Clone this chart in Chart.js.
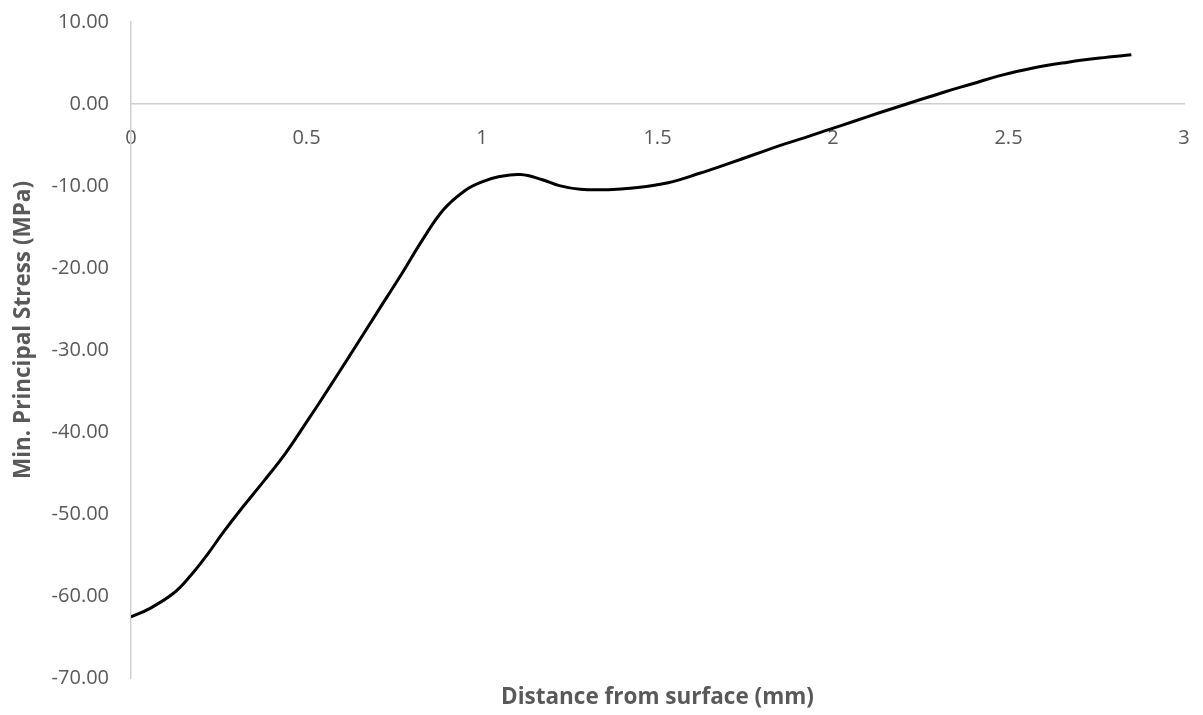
<!DOCTYPE html>
<html>
<head>
<meta charset="utf-8">
<script src="https://cdn.jsdelivr.net/npm/chart.js@4/dist/chart.umd.min.js"></script>
<style>
  html, body { margin: 0; padding: 0; background: #ffffff; }
  #wrap { width: 1203px; height: 715px; position: relative; }
</style>
</head>
<body>
<div id="wrap"><canvas id="c"></canvas></div>
<script>
// Distance from surface (mm)
const distance = [0, 0.05, 0.12, 0.17, 0.22, 0.26, 0.31, 0.38, 0.44, 0.50, 0.56, 0.62, 0.70, 0.77, 0.83, 0.89, 0.95, 1.00, 1.05, 1.11, 1.17, 1.22, 1.28, 1.36, 1.43, 1.53, 1.62, 1.70, 1.78, 1.85, 1.92, 1.99, 2.06, 2.13, 2.21, 2.32, 2.40, 2.47, 2.57, 2.67, 2.76, 2.85];
// Min. principal stress (MPa)
const stress = [-62.55, -61.6, -59.7, -57.5, -54.8, -52.4, -49.6, -45.9, -42.6, -38.8, -34.9, -30.9, -25.5, -20.8, -16.6, -12.9, -10.6, -9.5, -8.85, -8.6, -9.2, -9.95, -10.4, -10.45, -10.25, -9.6, -8.45, -7.3, -6.1, -5.05, -4.1, -3.1, -2.1, -1.1, 0.0, 1.5, 2.5, 3.4, 4.4, 5.1, 5.6, 6.0];

const xTickRange = { min: 0, max: 3, step: 0.5 };
const yTickRange = { min: -70, max: 10, step: 10 };
const xTitle = 'Distance from surface (mm)';
const yTitle = 'Min. Principal Stress (MPa)';

const points = distance.map((d, i) => ({ x: d, y: stress[i] }));

const textGrey = '#595959';
const axisGrey = '#d0d0d0';
const family = "'Open Sans', sans-serif";

// Keep tick-label overflow from shrinking the plot area
const noEdgePadding = (s) => {
  s.paddingTop = 0; s.paddingBottom = 0; s.paddingLeft = 0; s.paddingRight = 0;
};

// Vertical axis title, sitting a little above the middle of the axis
const yTitlePlugin = {
  id: 'yTitle',
  afterDraw(chart) {
    const { ctx, chartArea } = chart;
    const cy = (chartArea.top + chartArea.bottom) / 2 - 20;
    ctx.save();
    ctx.translate(24, cy);
    ctx.rotate(-Math.PI / 2);
    ctx.textAlign = 'center';
    ctx.textBaseline = 'middle';
    ctx.fillStyle = textGrey;
    ctx.font = "bold 22.5px 'Open Sans', sans-serif";
    ctx.fillText(yTitle, 0, 0);
    ctx.restore();
  }
};

new Chart(document.getElementById('c'), {
  type: 'line',
  data: {
    datasets: [{
      data: points,
      borderColor: '#000000',
      borderWidth: 3,
      pointRadius: 0,
      fill: false,
      tension: 0.4
    }]
  },
  plugins: [yTitlePlugin],
  options: {
    responsive: true,
    maintainAspectRatio: false,
    animation: false,
    plugins: { legend: { display: false }, tooltip: { enabled: false } },
    layout: { padding: { left: 0, right: 19, top: 22, bottom: 0 } },
    scales: {
      x: {
        type: 'linear',
        position: { y: 0 },
        min: xTickRange.min,
        max: xTickRange.max,
        grid: { display: false, drawTicks: false },
        border: { display: true, color: axisGrey, width: 1.5 },
        ticks: {
          stepSize: xTickRange.step,
          padding: 22,
          color: textGrey,
          font: { family, size: 20 },
          maxRotation: 0,
          callback: (v) => String(v)
        },
        afterFit: noEdgePadding
      },
      xTitleAxis: {
        type: 'linear',
        position: 'bottom',
        axis: 'x',
        min: xTickRange.min,
        max: xTickRange.max,
        grid: { display: false, drawTicks: false },
        border: { display: false },
        ticks: { display: false },
        title: {
          display: true,
          text: xTitle,
          color: textGrey,
          font: { family, size: 22.5, weight: 'bold' },
          padding: { top: 4, bottom: 4 }
        },
        afterFit: (s) => { noEdgePadding(s); s.height = 37; }
      },
      y: {
        type: 'linear',
        position: 'left',
        min: yTickRange.min,
        max: yTickRange.max,
        grid: { display: false, drawTicks: false },
        border: { display: true, color: axisGrey, width: 1.5 },
        ticks: {
          stepSize: yTickRange.step,
          padding: 22,
          color: textGrey,
          font: { family, size: 20 },
          callback: (v) => Number(v).toFixed(2)
        },
        afterFit: (s) => { noEdgePadding(s); s.width = 131; }
      }
    }
  }
});
</script>
</body>
</html>
